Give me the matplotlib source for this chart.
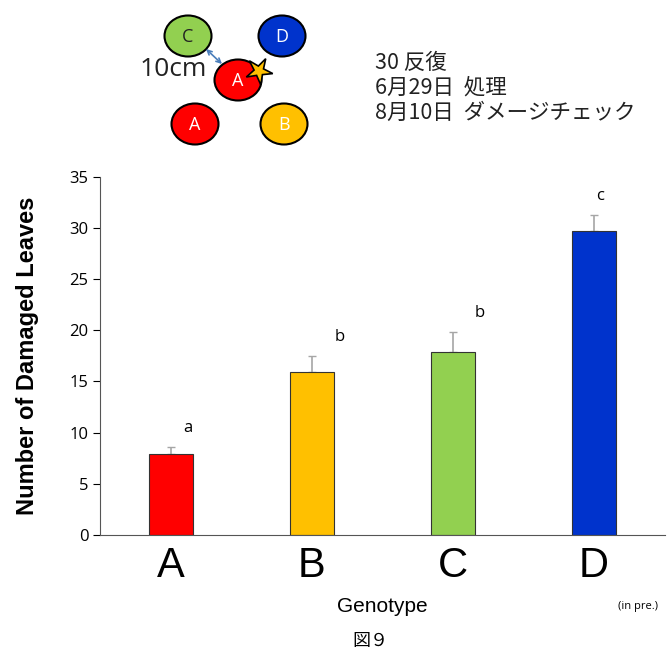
import matplotlib
matplotlib.use('Agg')
import matplotlib.pyplot as plt
from matplotlib.patches import Ellipse, FancyArrowPatch
import matplotlib.patches as mpatches
import numpy as np

genotypes = ['A', 'B', 'C', 'D']
damaged = [7.9, 15.9, 17.9, 29.7]
err = [0.7, 1.6, 1.9, 1.6]
letters = ['a', 'b', 'b', 'c']
colors = ['#ff0000', '#ffc000', '#92d050', '#0033cc']

plt.rcParams['font.family'] = ['Liberation Sans', 'DejaVu Sans']

fig = plt.figure(figsize=(6.68, 6.61), dpi=100)
ax = fig.add_axes([0.150, 0.191, 0.845, 0.541])

x = np.arange(len(genotypes))
ax.bar(x, damaged, width=0.31, color=colors, edgecolor='#333333', linewidth=0.8, zorder=2)
ax.errorbar(x, damaged, yerr=[[0] * 4, err], fmt='none', ecolor='#a6a6a6',
            elinewidth=1.2, capsize=3, capthick=1.0, zorder=1)

# significance letters
offs = [12, 20, 19, 4]
for i, (v, e, l) in enumerate(zip(damaged, err, letters)):
    ax.annotate(l, (i, v + e), xytext=(offs[i], 8), textcoords='offset points',
                ha='center', va='bottom', fontsize=12, family=['Open Sans', 'DejaVu Sans'])

ax.set_xlim(-0.5, 3.5)
ax.set_ylim(0, 35)
ax.set_yticks(range(0, 36, 5))
ax.set_xticks(x)
ax.set_xticklabels(genotypes, fontsize=30)
ax.tick_params(axis='x', length=0, pad=8)
ax.tick_params(axis='y', labelsize=12, length=5, width=0.8, direction='out')
for lab in ax.get_yticklabels():
    lab.set_family(['Open Sans', 'DejaVu Sans'])
ax.spines['top'].set_visible(False)
ax.spines['right'].set_visible(False)
ax.spines['left'].set_color('#555555')
ax.spines['bottom'].set_color('#555555')
ax.set_ylabel('Number of Damaged Leaves', fontsize=17, fontweight='bold', labelpad=22)
ax.set_xlabel('Genotype', fontsize=15, labelpad=8)

fig.text(0.955, 0.078, '(in pre.)', fontsize=8, ha='center', family=['Open Sans', 'DejaVu Sans'])
fig.text(0.555, 0.022, '図９', fontsize=13, ha='center', family=['Noto Sans CJK JP', 'DejaVu Sans'])

# top diagram drawn in pixel coordinates
ov = fig.add_axes([0, 0, 1, 1], zorder=-1)
ov.set_xlim(0, 668)
ov.set_ylim(661, 0)
ov.axis('off')
circles = [(188, 36, '#92d050', 'C', '#222222'), (282, 36, '#0033cc', 'D', 'white'),
           (238, 80, '#ff0000', 'A', 'white'), (195, 124, '#ff0000', 'A', 'white'),
           (284, 124, '#ffc000', 'B', 'white')]
for cx, cy, fc, t, tc in circles:
    ov.add_patch(Ellipse((cx, cy), 47, 41, facecolor=fc, edgecolor='black', linewidth=1.5))
    ov.text(cx, cy + 1, t, ha='center', va='center', fontsize=13, color=tc,
            family=['Open Sans', 'DejaVu Sans'])
ov.add_patch(FancyArrowPatch((206, 49), (222, 64), arrowstyle='<->', mutation_scale=8,
                             color='#4a7ebb', linewidth=1.2, shrinkA=0, shrinkB=0))
ov.text(173, 70, '10cm', ha='center', va='center', fontsize=19, color='#222222',
        family=['Open Sans', 'DejaVu Sans'])
# star
ang = np.linspace(np.pi / 2, np.pi / 2 + 2 * np.pi, 11)
rad = np.array([14, 5] * 5 + [14])
sx = 259 + rad * np.cos(ang - 0.5)
sy = 71 - rad * np.sin(ang - 0.5)
ov.add_patch(mpatches.Polygon(np.c_[sx, sy], closed=True, facecolor='#ffc000',
                              edgecolor='black', linewidth=1.2))

jp = ['Noto Sans CJK JP', 'DejaVu Sans']
ov.text(375, 63, '30 反復', fontsize=15.5, va='center', color='#222222', family=jp)
ov.text(375, 88, '6月29日  処理', fontsize=15.5, va='center', color='#222222', family=jp)
ov.text(375, 113, '8月10日  ダメージチェック', fontsize=15.5, va='center', color='#222222', family=jp)

fig.savefig('out.png', dpi=100)
